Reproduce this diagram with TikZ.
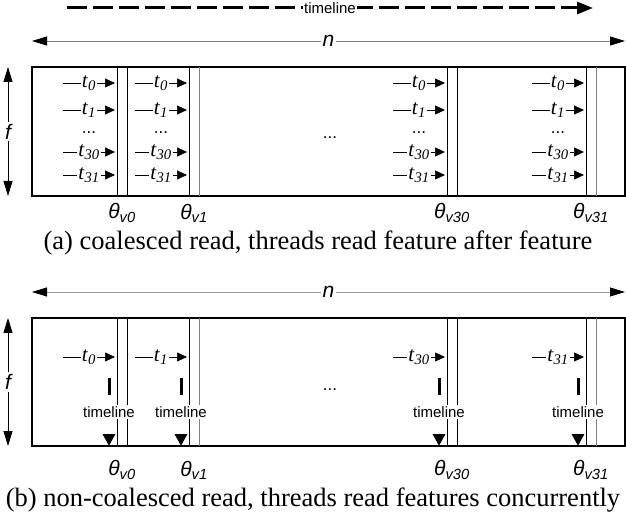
\documentclass[tikz,border=0pt]{standalone}
\usepackage{fontspec}
\setmainfont{Liberation Serif}
\setsansfont{Liberation Sans}
\usetikzlibrary{arrows.meta, positioning}
\tikzstyle{frame}=[line width=2pt, draw=black]
\tikzstyle{wall}=[line width=0.8pt]
\tikzstyle{thread}=[-{Triangle[length=10pt,width=9pt]}, line width=0.7pt]
\tikzstyle{dimarrow}=[{Triangle[length=15pt,width=9pt,color=black]}-{Triangle[length=15pt,width=9pt,color=black]}, line width=0.8pt]
\tikzstyle{timearrow}=[-{Triangle[length=16pt,width=12pt]}, line width=3pt, dash pattern=on 20pt off 6pt]
\tikzstyle{vtimearrow}=[-{Triangle[length=12pt,width=12pt]}, line width=3pt, dash pattern=on 17pt off 60pt]
\tikzstyle{timelabel}=[fill=white, inner sep=1pt, font=\sffamily\fontsize{15}{18}\selectfont]
\tikzstyle{thrlabel}=[fill=white, inner sep=1pt, font=\fontsize{21}{24}\selectfont]
\tikzstyle{dimlabel}=[fill=white, inner sep=2pt, font=\sffamily\itshape\fontsize{21}{24}\selectfont]
\tikzstyle{theta}=[font=\sffamily\itshape\fontsize{21}{24}\selectfont]
\tikzstyle{dots}=[anchor=base, inner sep=0pt, font=\sffamily\fontsize{17}{20}\selectfont]
\tikzstyle{caption}=[font=\fontsize{26.5}{30}\selectfont]
\newcommand{\thr}[1]{\textit{t}\textsubscript{\textit{#1}}}
\newcommand{\vtheta}[1]{θ\textsubscript{v#1}}

\begin{document}
\begin{tikzpicture}[x=1pt, y=-1pt]
  \useasboundingbox (0,0) rectangle (626,526);

  % timeline on top
  \coordinate (tl0) at (67,8);
  \coordinate (tl1) at (593,8);
  \draw[timearrow] (tl0) -- node[timelabel] (tl) {timeline} (tl1);

  % (a) coalesced read
  \coordinate (na0) at (32,41);
  \coordinate (na1) at (625,41);
  \draw[dimarrow, draw=gray] (na0) -- node[dimlabel] (na) {n} (na1);
  \coordinate (fa0) at (8,67);
  \coordinate (fa1) at (8,196);
  \draw[dimarrow] (fa0) -- node[dimlabel] (fa) {f} (fa1);
  \draw[frame] (32,67) rectangle (625,196);
  \foreach \x/\c in {117/black,127/black,189/black,199/gray,447/black,457/black,586/black,596/gray}
    \draw[wall, draw=\c] (\x,67) -- (\x,196);
  \foreach \x in {63,135,393,532} {
    \foreach \y/\i in {83/0,110/1,152/30,175/31} {
      \coordinate (sa-\x-\i) at (\x,\y);
      \coordinate (ea-\x-\i) at (\x+52,\y);
      \draw[thread] (sa-\x-\i) -- node[thrlabel] (ta-\x-\i) {\thr{\i}} (ea-\x-\i);
    }
    \node[dots] (da-\x) at (\x+26,134) {...};
  }
  \node[dots] (dotsa) at (330,139) {...};
  \foreach \x/\v in {122/0,194/1,452/30,591/31}
    \node[theta] (tha-\v) at (\x,213) {\vtheta{\v}};
  \node[caption] (capa) at (318,243) {(a) coalesced read, threads read feature after feature};

  % (b) non-coalesced read
  \coordinate (nb0) at (32,292);
  \coordinate (nb1) at (625,292);
  \draw[dimarrow, draw=gray!80] (nb0) -- node[dimlabel] (nb) {n} (nb1);
  \coordinate (fb0) at (8,318);
  \coordinate (fb1) at (8,446);
  \draw[dimarrow] (fb0) -- node[dimlabel] (fb) {f} (fb1);
  \draw[frame] (32,318) rectangle (625,446);
  \foreach \x/\c in {117/black,127/black,189/black,199/gray,447/black,457/black,586/black,596/gray}
    \draw[wall, draw=\c] (\x,318) -- (\x,446);
  \foreach \x/\i in {63/0,135/1,393/30,532/31} {
    \coordinate (sb-\i) at (\x,357);
    \coordinate (eb-\i) at (\x+52,357);
    \draw[thread] (sb-\i) -- node[thrlabel] (tb-\i) {\thr{\i}} (eb-\i);
    \coordinate (vb0-\i) at (\x+46,378);
    \coordinate (vb1-\i) at (\x+46,446);
    \draw[vtimearrow] (vb0-\i) -- node[timelabel] (vt-\i) {timeline} (vb1-\i);
  }
  \node[dots] (dotsb) at (330,390) {...};
  \foreach \x/\v in {122/0,194/1,452/30,591/31}
    \node[theta] (thb-\v) at (\x,470) {\vtheta{\v}};
  \node[caption] (capb) at (313,500) {(b) non-coalesced read, threads read features concurrently};
\end{tikzpicture}
\end{document}
